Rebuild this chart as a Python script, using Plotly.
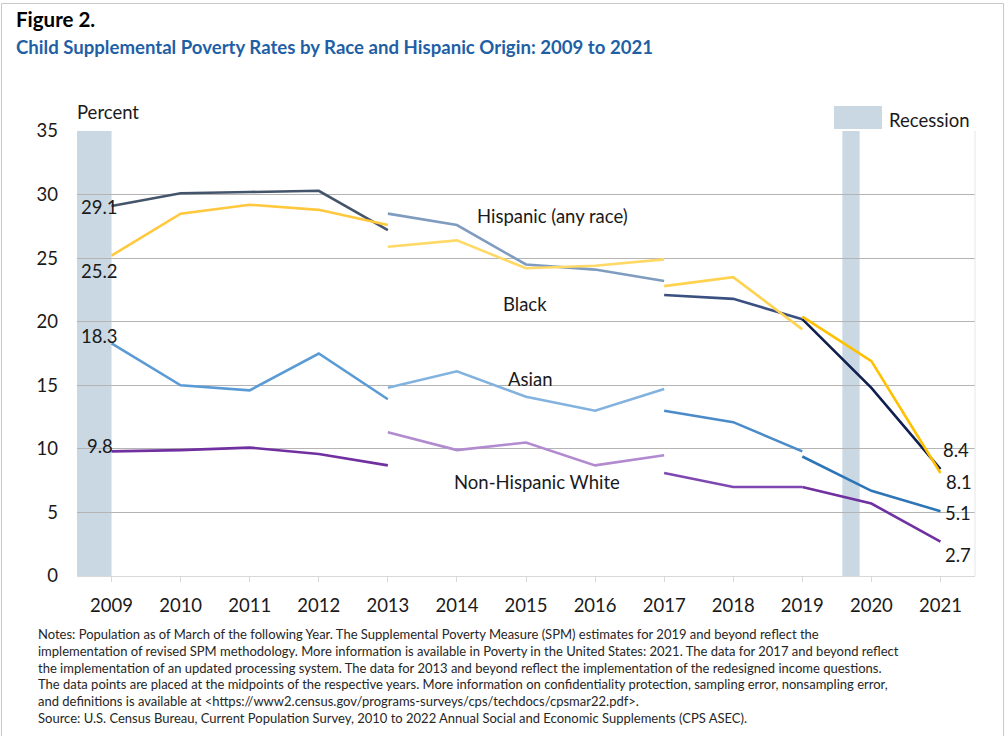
import plotly.graph_objects as go

# --- Data (child SPM poverty rates, percent) ---
YEARS_A = [2009, 2010, 2011, 2012, 2013]
YEARS_B = [2013, 2014, 2015, 2016, 2017]
YEARS_C = [2017, 2018, 2019]
YEARS_D = [2019, 2020, 2021]

BLACK_A = [29.1, 30.1, 30.2, 30.3, 27.2]
BLACK_B = [28.5, 27.6, 24.5, 24.1, 23.2]
BLACK_C = [22.1, 21.8, 20.2]
BLACK_D = [20.2, 14.8, 8.4]

HISP_A = [25.2, 28.5, 29.2, 28.8, 27.6]
HISP_B = [25.9, 26.4, 24.2, 24.4, 24.9]
HISP_C = [22.8, 23.5, 19.4]
HISP_D = [20.4, 16.9, 8.1]

ASIAN_A = [18.3, 15.0, 14.6, 17.5, 13.9]
ASIAN_B = [14.8, 16.1, 14.1, 13.0, 14.7]
ASIAN_C = [13.0, 12.1, 9.8]
ASIAN_D = [9.4, 6.7, 5.1]

WHITE_A = [9.8, 9.9, 10.1, 9.6, 8.7]
WHITE_B = [11.3, 9.9, 10.5, 8.7, 9.5]
WHITE_C = [8.1, 7.0, 7.0]
WHITE_D = [7.0, 5.7, 2.7]

TICK_YEARS = list(range(2009, 2022))
RECESSIONS = [(2008.5, 2009.0), (2019.58, 2019.83)]

NOTES = [
    "Notes: Population as of March of the following Year. The Supplemental Poverty Measure (SPM) estimates for 2019 and beyond reflect the",
    "implementation of revised SPM methodology. More information is available in Poverty in the United States: 2021. The data for 2017 and beyond reflect",
    "the implementation of an updated processing system. The data for 2013 and beyond reflect the implementation of the redesigned income questions.",
    "The data points are placed at the midpoints of the respective years. More information on confidentiality protection, sampling error, nonsampling error,",
    "and definitions is available at &lt;https://www2.census.gov/programs-surveys/cps/techdocs/cpsmar22.pdf&gt;.",
    "Source: U.S. Census Bureau, Current Population Survey, 2010 to 2022 Annual Social and Economic Supplements (CPS ASEC).",
]

FONT = "Lato"
TEXT = "#1a1a1a"
REC_COLOR = "#c9d8e2"
FS = 18.5

# segment colours: (2009-13, 2013-17, 2017-19, 2019-21)
SERIES = [
    ("Black", [BLACK_A, BLACK_B, BLACK_C, BLACK_D], ["#44546a", "#7f9cc0", "#3a5080", "#0f2050"]),
    ("Hispanic (any race)", [HISP_A, HISP_B, HISP_C, HISP_D], ["#ffc83d", "#ffd966", "#ffd24f", "#ffc000"]),
    ("Asian", [ASIAN_A, ASIAN_B, ASIAN_C, ASIAN_D], ["#5b9bd5", "#82b2de", "#4a8bca", "#2e75b6"]),
    ("Non-Hispanic White", [WHITE_A, WHITE_B, WHITE_C, WHITE_D], ["#7030a0", "#b28ad0", "#7e48b0", "#7030a0"]),
]
SEG_YEARS = [YEARS_A, YEARS_B, YEARS_C, YEARS_D]

fig = go.Figure()

for name, segs, colors in SERIES:
    for yrs, vals, col in zip(SEG_YEARS, segs, colors):
        fig.add_trace(go.Scatter(x=yrs, y=vals, mode="lines", name=name,
                                 line=dict(color=col, width=2.6), showlegend=False))

# recession shading
for x0, x1 in RECESSIONS:
    fig.add_shape(type="rect", xref="x", yref="y", x0=x0, x1=x1, y0=0, y1=35,
                  fillcolor=REC_COLOR, line_width=0, layer="below")

# series labels
for txt, x, y in [("Hispanic (any race)", 2015.38, 28.3), ("Black", 2014.99, 21.4),
                  ("Asian", 2015.06, 15.5), ("Non-Hispanic White", 2015.16, 7.4)]:
    fig.add_annotation(x=x, y=y, text=txt, showarrow=False,
                       font=dict(family=FONT, size=FS, color=TEXT))

# value labels
for x, y, shift in [(2008.83, BLACK_A[0], -1), (2008.83, HISP_A[0], -15),
                    (2008.83, ASIAN_A[0], 7), (2008.83, WHITE_A[0], 5),
                    (2021.23, BLACK_D[-1], 19), (2021.27, HISP_D[-1], -9),
                    (2021.26, ASIAN_D[-1], -2), (2021.25, WHITE_D[-1], -13)]:
    fig.add_annotation(x=x, y=y, yshift=shift, text=f"{y:.1f}", showarrow=False,
                       font=dict(family=FONT, size=FS, color=TEXT))

# axis caption and legend
fig.add_annotation(xref="paper", yref="paper", x=-0.002, y=1.0427, xanchor="left",
                   yanchor="middle", text="Percent", showarrow=False,
                   font=dict(family=FONT, size=FS, color=TEXT))
fig.add_shape(type="rect", xref="paper", yref="paper", x0=0.843, x1=0.8964,
              y0=1.0045, y1=1.0562, fillcolor=REC_COLOR, line_width=0)
fig.add_annotation(xref="paper", yref="paper", x=0.902, y=1.0247, xanchor="left",
                   yanchor="middle", text="Recession", showarrow=False,
                   font=dict(family=FONT, size=FS, color=TEXT))

# right border of plot area
fig.add_shape(type="line", xref="paper", yref="paper", x0=1, x1=1, y0=0, y1=1,
              line=dict(color="#e6e6e6", width=1))

# outer frame
fig.add_shape(type="rect", xref="paper", yref="paper", x0=-0.0841, x1=1.0318,
              y0=-0.4, y1=1.2865, line=dict(color="#c8c8c8", width=1))

# titles
fig.add_annotation(xref="paper", yref="paper", x=-0.0702, y=(576 - 19) / 445, xanchor="left",
                   yanchor="middle", text="<b>Figure 2.</b>", showarrow=False,
                   font=dict(family=FONT, size=20.5, color="#000000"))
fig.add_annotation(xref="paper", yref="paper", x=-0.0702, y=(576 - 47) / 445, xanchor="left",
                   yanchor="middle",
                   text="<b>Child Supplemental Poverty Rates by Race and Hispanic Origin: 2009 to 2021</b>",
                   showarrow=False, font=dict(family=FONT, size=18.6, color="#1f5fa6"))

# notes
for i, line in enumerate(NOTES):
    fig.add_annotation(xref="paper", yref="paper", x=-0.0457, y=(576 - 634 - 16.8 * i) / 445,
                       xanchor="left", yanchor="middle", text=line, showarrow=False,
                       font=dict(family=FONT, size=13, color="#262626"))

fig.update_xaxes(range=[2008.5, 2021.5], tickvals=TICK_YEARS, showgrid=False,
                 ticks="outside", ticklen=5, tickcolor="#d9d9d9",
                 showline=True, linecolor="#d9d9d9", linewidth=1, zeroline=False,
                 ticklabelstandoff=8,
                 tickfont=dict(family=FONT, size=FS, color=TEXT))
fig.update_yaxes(range=[0, 35], tickvals=[0, 5, 10, 15, 20, 25, 30, 35], showgrid=True,
                 gridcolor="#b4b4b4", gridwidth=1, zeroline=False, showline=False,
                 ticklabelstandoff=18,
                 tickfont=dict(family=FONT, size=FS, color=TEXT))

fig.update_layout(
    width=1005, height=736,
    margin=dict(l=77, r=30, t=131, b=160),
    plot_bgcolor="white", paper_bgcolor="white",
    showlegend=False,
)

# page has a default 8px body margin; drop it so the figure sits at the window origin
fig.write_html("out.html", config={"displayModeBar": False},
               post_script="document.body.style.margin='0';")
